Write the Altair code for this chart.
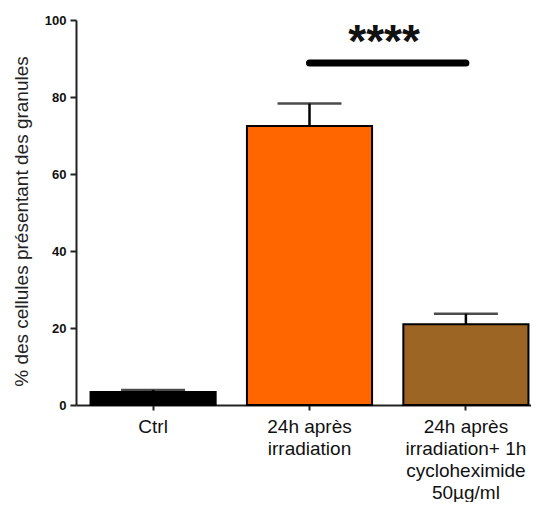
import altair as alt
import pandas as pd

categories = ["Ctrl", "24h après\nirradiation", "24h après\nirradiation+ 1h\ncycloheximide\n50µg/ml"]
means = [3.4, 72.5, 21.0]
uppers = [3.9, 78.3, 23.7]
colors = ["#000000", "#FF6600", "#9C6523"]
sig_from = categories[1]
sig_to = categories[2]
sig_y = 88.8
sig_text = "****"
star_y = 94.0

df = pd.DataFrame({"cat": categories, "mean": means, "upper": uppers, "color": colors})
sig = pd.DataFrame({"a": [sig_from], "b": [sig_to], "y": [sig_y], "t": [sig_text], "ty": [star_y]})

xscale = alt.Scale(domain=categories, range=[0, 467], paddingInner=0.2, paddingOuter=0.093)
yscale = alt.Scale(domain=[0, 100])

xaxis = alt.Axis(title=None, labelAngle=0, labelExpr="split(datum.label, '\\n')",
                 labelFontSize=19, labelLineHeight=22, labelPadding=7,
                 labelFont="Liberation Sans", labelColor="#111111",
                 domainColor="#222222", domainWidth=2, tickColor="#222222", tickWidth=2, tickSize=5)
yaxis = alt.Axis(title="% des cellules présentant des granules", values=[0, 20, 40, 60, 80, 100],
                 grid=False, labelFontSize=13, labelFont="Liberation Sans", labelFontWeight="bold",
                 labelColor="#111111", labelPadding=4,
                 domainColor="#222222", domainWidth=2, tickColor="#222222", tickWidth=2, tickSize=6,
                 titleFontSize=19, titleFont="Liberation Sans", titleFontWeight="normal", titleColor="#222222",
                 titleAngle=270, titleX=-55, titleY=201, titleAlign="center", titleBaseline="middle")

base = alt.Chart(df)

bars = base.mark_bar(stroke="black", strokeWidth=2).encode(
    x=alt.X("cat:N", scale=xscale, axis=xaxis, sort=categories),
    y=alt.Y("mean:Q", scale=yscale, axis=yaxis),
    color=alt.Color("color:N", scale=None),
)

err = base.mark_rule(color="black", strokeWidth=2.5).encode(
    x=alt.X("cat:N", scale=xscale, sort=categories),
    y="mean:Q",
    y2="upper:Q",
)

caps = base.mark_tick(color="black", thickness=2.5, size=64).encode(
    x=alt.X("cat:N", scale=xscale, sort=categories),
    y="upper:Q",
)

sig_line = alt.Chart(sig).mark_rule(color="black", strokeWidth=7, strokeCap="round").encode(
    x=alt.X("a:N", scale=xscale, sort=categories),
    x2="b:N",
    y=alt.Y("y:Q", scale=yscale),
)

stars = alt.Chart(sig).mark_text(fontSize=46, font="Liberation Sans", fontWeight="bold",
                                  baseline="middle", align="center", color="#111111", dx=12).encode(
    x=alt.X("a:N", scale=xscale, sort=categories, bandPosition=1),
    y=alt.Y("ty:Q", scale=yscale),
    text="t:N",
)

chart = alt.layer(bars, err, caps, sig_line, stars).properties(
    width=455, height=385,
    autosize=alt.AutoSizeParams(type="none"),
    padding={"left": 68, "top": 12, "right": 0, "bottom": 97},
).configure_view(stroke=None)

chart.save("out.html", embed_options={"renderer": "svg", "actions": False})
